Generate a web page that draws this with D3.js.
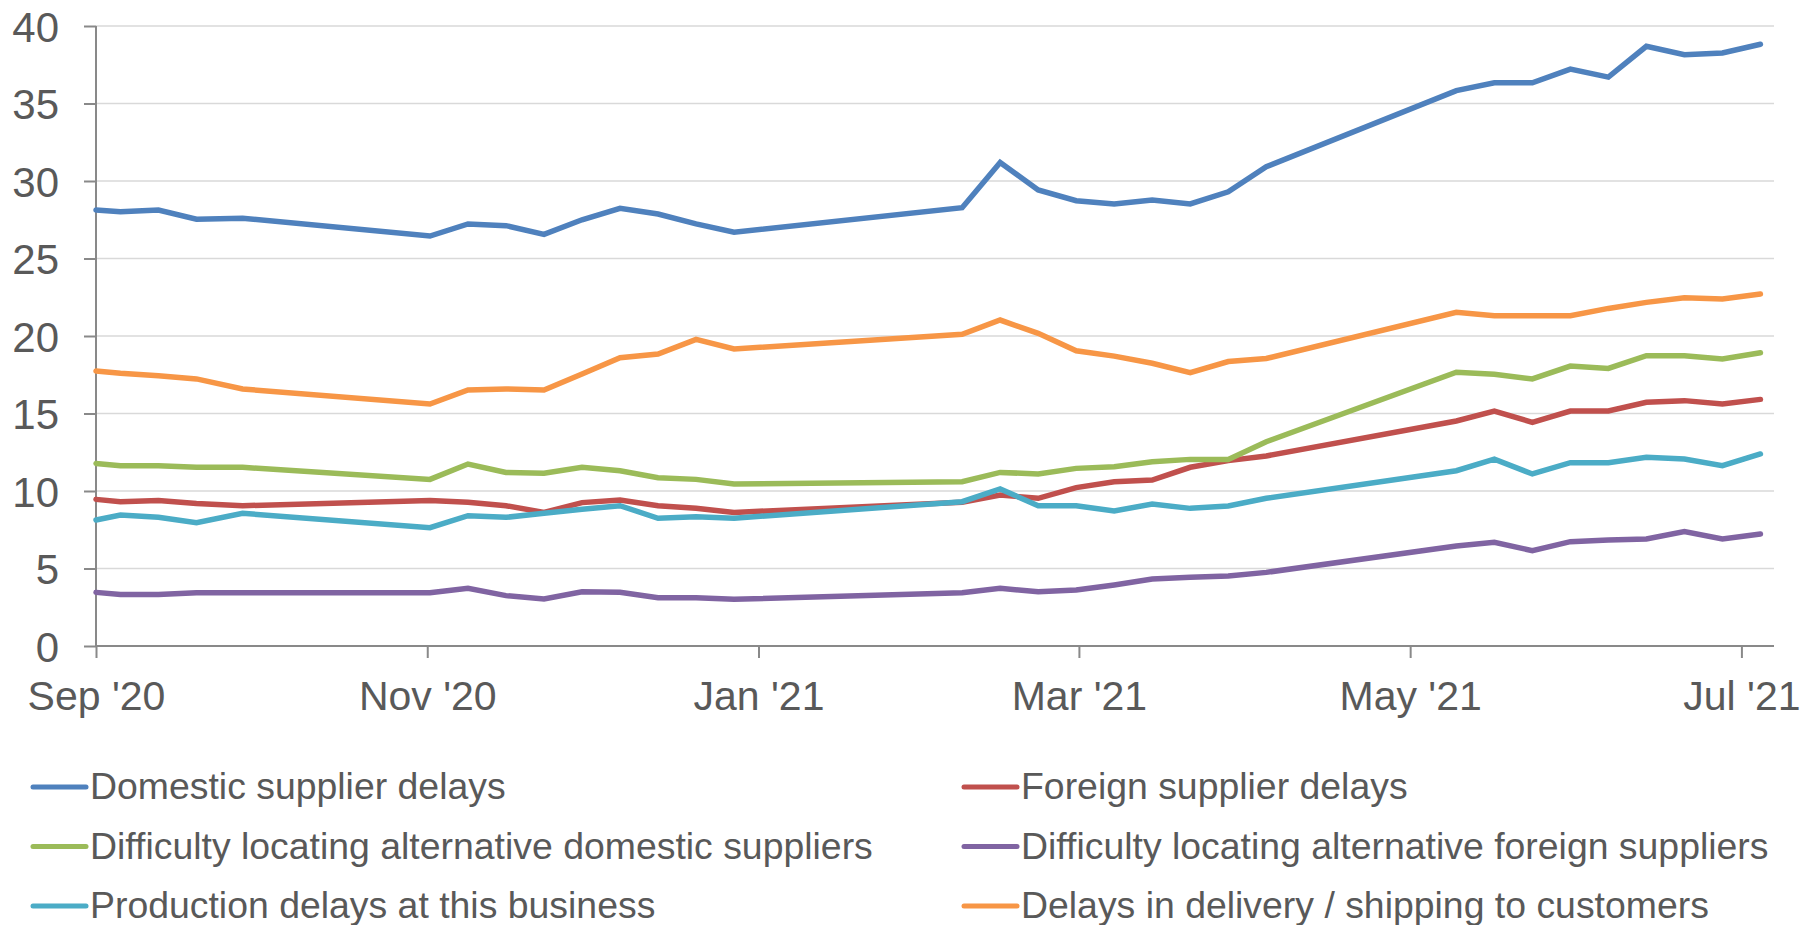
<!DOCTYPE html>
<html>
<head>
<meta charset="utf-8">
<script src="https://cdn.jsdelivr.net/npm/d3@7"></script>
<style>
  html, body { margin: 0; padding: 0; background: #fff; }
  svg { display: block; font-family: "Liberation Sans", Arial, sans-serif; }
</style>
</head>
<body>
<svg id="chart" width="1816" height="925"></svg>
<script>
// survey dates (weekly, with gaps between rounds)
const dates = ["2020-09-01T00","2020-09-05T12","2020-09-12T12","2020-09-19T12","2020-09-28T00",
  "2020-11-01T12","2020-11-08T12","2020-11-15T12","2020-11-22T12","2020-11-29T12","2020-12-06T12","2020-12-13T12","2020-12-20T12","2020-12-27T12",
  "2021-02-07T12","2021-02-14T12","2021-02-21T12","2021-02-28T12","2021-03-07T12","2021-03-14T12","2021-03-21T12","2021-03-28T12","2021-04-04T12",
  "2021-05-09T12","2021-05-16T12","2021-05-23T12","2021-05-30T12","2021-06-06T12","2021-06-13T12","2021-06-20T12","2021-06-27T12","2021-07-04T12"]

const domesticDelays = [28.13,28.02,28.13,27.53,27.6, 26.45,27.23,27.12,26.56,27.5,28.24,27.87,27.23,26.69,
  28.28,31.2,29.42,28.73,28.52,28.77,28.52,29.3,30.92, 35.83,36.34,36.34,37.22,36.7,38.69,38.15,38.26,38.82]
const foreignDelays = [9.46,9.31,9.38,9.2,9.05, 9.38,9.27,9.05,8.62,9.25,9.42,9.05,8.88,8.62,
  9.27,9.74,9.53,10.22,10.6,10.71,11.53,11.96,12.26, 14.52,15.16,14.43,15.16,15.16,15.72,15.83,15.61,15.91]
const altDomestic = [11.78,11.63,11.63,11.53,11.53, 10.75,11.74,11.2,11.14,11.53,11.31,10.86,10.75,10.45,
  10.6,11.2,11.1,11.46,11.57,11.89,12.04,12.04,13.18, 17.66,17.53,17.23,18.06,17.91,18.73,18.73,18.52,18.92]
const altForeign = [3.46,3.33,3.33,3.44,3.44, 3.44,3.72,3.25,3.03,3.5,3.46,3.12,3.12,3.01,
  3.44,3.72,3.5,3.61,3.94,4.32,4.43,4.52,4.75, 6.45,6.69,6.15,6.73,6.84,6.9,7.38,6.9,7.23]
const productionDelays = [8.13,8.45,8.3,7.96,8.56, 7.63,8.41,8.3,8.56,8.82,9.05,8.24,8.34,8.24,
  9.31,10.13,9.05,9.05,8.71,9.16,8.88,9.03,9.53, 11.31,12.06,11.1,11.83,11.83,12.17,12.06,11.63,12.39]
const shippingDelays = [17.74,17.59,17.44,17.23,16.58, 15.61,16.52,16.58,16.52,17.55,18.6,18.84,19.78,19.16,
  20.11,21.03,20.17,19.05,18.7,18.24,17.63,18.35,18.55, 21.53,21.31,21.31,21.31,21.78,22.17,22.47,22.39,22.71]

const seriesNames = ["Domestic supplier delays", "Foreign supplier delays",
  "Difficulty locating alternative domestic suppliers", "Difficulty locating alternative foreign suppliers",
  "Production delays at this business", "Delays in delivery / shipping to customers"]
const seriesValues = [domesticDelays, foreignDelays, altDomestic, altForeign, productionDelays, shippingDelays]
const colors = ["#4F81BD", "#C0504D", "#9BBB59", "#8064A2", "#4BACC6", "#F79646"]

const yTicks = [0, 5, 10, 15, 20, 25, 30, 35, 40]
const xTicks = ["2020-09-01T00","2020-11-01T00","2021-01-01T00","2021-03-01T00","2021-05-01T00","2021-07-01T00"]

const parse = d3.timeParse("%Y-%m-%dT%H")
const textColor = "#595959"
const axisColor = "#898989"

const margin = { top: 26, left: 96, right: 42, bottom: 279 }
const W = 1816, H = 925
const width = W - margin.left - margin.right
const height = H - margin.top - margin.bottom

const svg = d3.select("#chart")
const g = svg.append("g").attr("transform", `translate(${margin.left},${margin.top})`)

const x = d3.scaleTime()
  .domain([parse("2020-09-01T00"), parse("2021-07-07T00")])
  .range([0, width])
const y = d3.scaleLinear().domain([0, 40]).range([height, 0])

// gridlines
g.append("g")
  .selectAll("line")
  .data(yTicks.filter(d => d > 0))
  .enter().append("line")
    .attr("x1", 0).attr("x2", width)
    .attr("y1", d => y(d)).attr("y2", d => y(d))
    .attr("stroke", "#d9d9d9")
    .attr("stroke-width", 1.5)

// y axis
const yAxis = g.append("g")
  .call(d3.axisLeft(y).tickValues(yTicks).tickSize(12).tickPadding(25))
yAxis.select(".domain").remove()
yAxis.selectAll(".tick line").attr("stroke", axisColor).attr("stroke-width", 2)
yAxis.selectAll("text")
  .attr("fill", textColor)
  .style("font-size", "42px")
  .attr("dy", "0.36em")
yAxis.append("line")
  .attr("x1", 0).attr("x2", 0).attr("y1", 0).attr("y2", height)
  .attr("stroke", axisColor).attr("stroke-width", 2)

// x axis
const xAxis = g.append("g")
  .attr("transform", `translate(0,${height})`)
  .call(d3.axisBottom(x).tickValues(xTicks.map(parse)).tickSize(12).tickFormat(d3.timeFormat("%b '%y")))
xAxis.select(".domain").attr("stroke", axisColor).attr("stroke-width", 2).attr("d", `M0,0H${width}`)
xAxis.selectAll(".tick line").attr("stroke", axisColor).attr("stroke-width", 2)
xAxis.selectAll("text")
  .attr("fill", textColor)
  .style("font-size", "41px")
  .attr("y", 64)
  .attr("dy", 0)

// lines
const line = d3.line()
  .x((d, i) => x(parse(dates[i])))
  .y(d => y(d))

g.selectAll(".series")
  .data(seriesValues)
  .enter().append("path")
    .attr("class", "series")
    .attr("d", d => line(d))
    .attr("fill", "none")
    .attr("stroke", (d, i) => colors[i])
    .attr("stroke-width", 5.5)
    .attr("stroke-linecap", "round")

// legend, two columns
const legend = svg.append("g")
  .selectAll(".legend")
  .data(seriesNames)
  .enter().append("g")
    .attr("class", "legend")
    .attr("transform", (d, i) => `translate(${i % 2 === 0 ? 33 : 964},${787 + Math.floor(i / 2) * 59.5})`)

legend.append("line")
  .attr("x1", 0).attr("x2", 53)
  .attr("stroke", (d, i) => colors[i])
  .attr("stroke-width", 5)
  .attr("stroke-linecap", "round")

legend.append("text")
  .attr("x", 57)
  .attr("y", 12)
  .attr("fill", textColor)
  .style("font-size", "37.4px")
  .text(d => d)
</script>
</body>
</html>
